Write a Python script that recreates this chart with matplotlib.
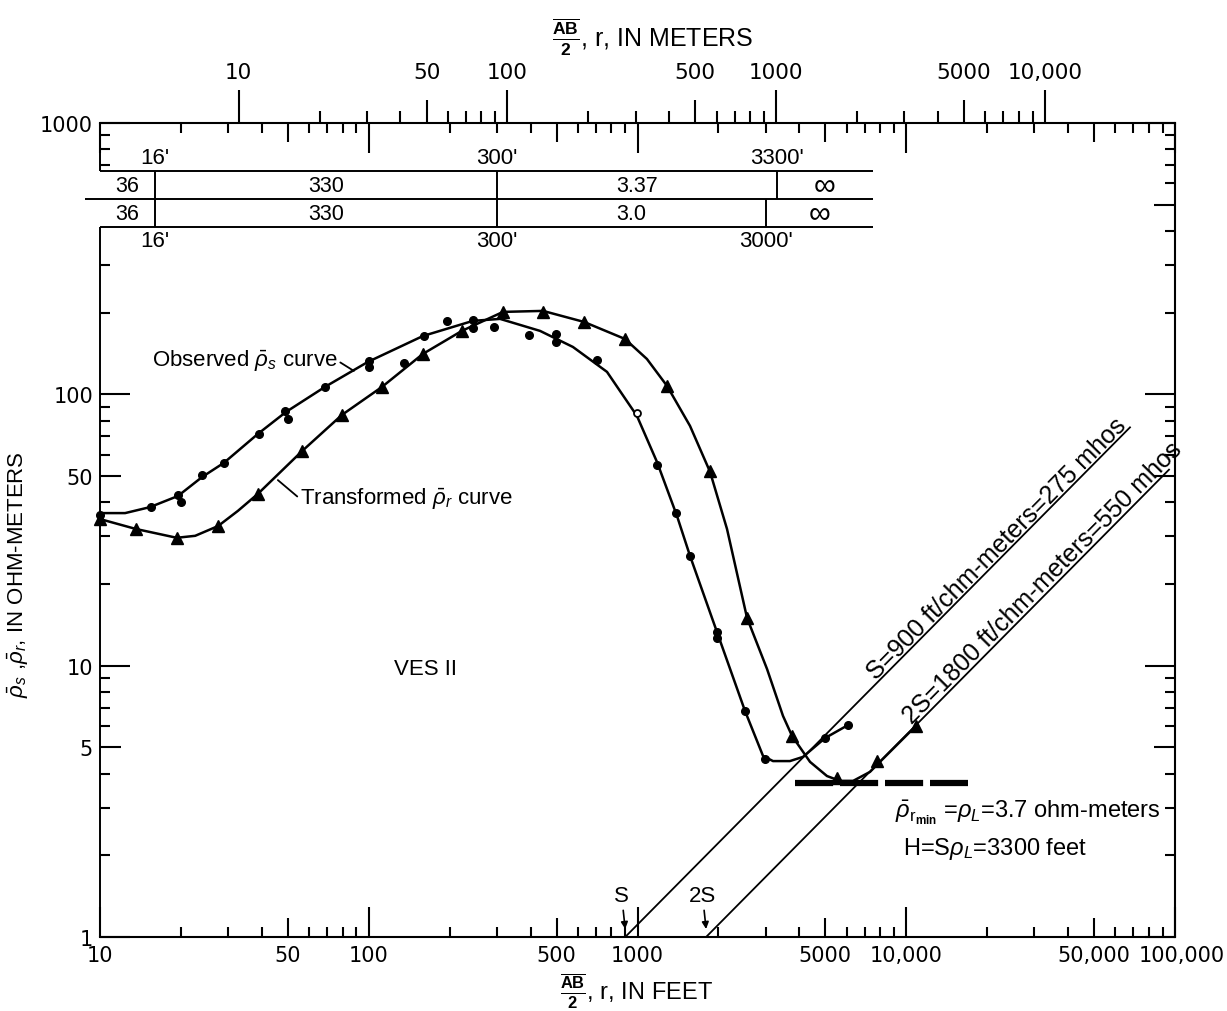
import matplotlib.pyplot as plt
import matplotlib.transforms as mtransforms
from matplotlib.ticker import FixedLocator, FuncFormatter, NullLocator

plt.rcParams['font.family'] = ['Liberation Sans', 'DejaVu Sans']
plt.rcParams['mathtext.fontset'] = 'custom'
plt.rcParams['mathtext.rm'] = 'Liberation Sans'
plt.rcParams['mathtext.it'] = 'Liberation Sans:italic'
plt.rcParams['mathtext.bf'] = 'Liberation Sans:bold'

FT_PER_M = 3.2808

# VES II: AB/2 in feet, apparent resistivity in ohm-meters
obs_r = [10, 15.5, 19.5, 20, 24, 29, 39, 49, 50, 69, 100, 100, 135, 160, 195,
         245, 245, 292, 395, 497, 497, 707, 1183, 1390, 1570, 1975, 1975,
         2510, 2980, 4990, 6070]
obs_rho = [36, 38.5, 42.5, 40, 50.5, 56, 71.5, 87, 81, 106, 133, 126, 131, 164,
           186, 188, 176, 177, 165, 167, 156, 134, 55, 36.5, 25.4, 13.3, 12.6,
           6.8, 4.53, 5.4, 6.05]
obs_open_r = [995]
obs_open_rho = [85]

# hand-drawn observed curve
obs_curve_r = [10, 12.4, 15.35, 19.5, 24, 28.9, 38.7, 49.2, 68.7, 99.3, 159,
               244, 308, 434, 575, 770, 995, 1182, 1403, 1568, 1976, 2512,
               2931, 3193, 3690, 4126, 4988, 6070]
obs_curve_rho = [36.5, 36.5, 38.4, 42.2, 49.6, 55.9, 71.5, 86.1, 106.5, 131.7,
                 164, 186.5, 189.7, 171.3, 149.5, 121, 83.3, 56.3, 35.6, 25.4,
                 13.3, 6.81, 4.65, 4.45, 4.45, 4.61, 5.41, 6.04]

# transformed values
tr_r = [10, 13.6, 19.3, 27.5, 38.7, 56.5, 79.5, 112, 159, 222, 316, 445, 632,
        898, 1288, 1860, 2555, 3760, 5520, 7780, 10870]
tr_rho = [34.7, 32, 29.6, 32.7, 43, 62, 84, 106, 141, 171, 201, 201, 185, 160,
          107, 52, 15, 5.5, 3.86, 4.45, 6.0]

tr_curve_r = [10, 13.6, 19.3, 22.6, 27.5, 32.6, 38.7, 56.5, 79.5, 112, 159,
              222, 316, 445, 632, 898, 1084, 1288, 1568, 1862, 2153, 2556,
              3034, 3478, 3758, 4385, 5070, 5670, 6340, 7330, 7980, 10870]
tr_curve_rho = [34.7, 31.9, 29.6, 30.1, 32.7, 37.2, 43, 61.8, 84, 106.5, 140.9,
                171.3, 201.3, 203, 184.9, 160, 135, 107.4, 76.5, 51.8, 31.9,
                15.0, 9.72, 6.53, 5.51, 4.42, 3.92, 3.76, 3.76, 4.06, 4.42, 6.0]

# conductance lines, rho = r / S
S_FT = 900
s_line_r = [900, 68000]
s2_line_r = [1800, 95000]

RHO_L = 3.7
rho_min_r = [3850, 17000]

# layer table: boundaries in feet and layer resistivities
obs_bounds = [10, 16, 300, 3300, 7500]
obs_layers = ['36', '330', '3.37', '\u221e']
int_bounds = [10, 16, 300, 3000, 7500]
int_layers = ['36', '330', '3.0', '\u221e']

x_labels = {10: '10', 50: '50', 100: '100', 500: '500', 1000: '1000',
            5000: '5000', 10000: '10,000', 50000: '50,000', 100000: '100,000'}
y_labels = {1: '1', 5: '5', 10: '10', 50: '50', 100: '100', 1000: '1000'}
m_labels = {10: '10', 50: '50', 100: '100', 500: '500', 1000: '1000',
            5000: '5000', 10000: '10,000'}


def log_ticks(lo, hi):
    locs, kinds = [], []
    for e in range(lo, hi):
        for m in range(1, 10):
            locs.append(m * 10.0 ** e)
            kinds.append('major' if m == 1 else 'mid' if m == 5 else 'minor')
    locs.append(10.0 ** hi)
    kinds.append('major')
    return locs, kinds


def set_ticks(axis, locs, kinds, labels, lengths):
    axis.set_major_locator(FixedLocator(locs))
    axis.set_minor_locator(NullLocator())
    axis.set_major_formatter(FuncFormatter(lambda v, pos: labels.get(round(v), '')))
    ticks = axis.get_major_ticks(len(locs))
    for tick, kind in zip(ticks, kinds):
        tick.tick1line.set_markersize(lengths[kind])
        tick.tick2line.set_markersize(lengths[kind])
    return ticks


fig = plt.figure(figsize=(12.27, 10.12), dpi=100)
ax = fig.add_axes([100 / 1227, 1 - 938 / 1012, 1075 / 1227, 814 / 1012])
ax_m = ax.twiny()

ax.set_xscale('log')
ax.set_yscale('log')
ax.set_xlim(10, 1e5)
ax.set_ylim(1, 1000)
ax.tick_params(which='both', direction='in', top=True, right=True,
               width=1.5, length=21.6, labelsize=15, labelfontfamily='DejaVu Sans')
ax.tick_params(axis='x', pad=6)
ax.tick_params(axis='y', pad=5)
for sp in ax.spines.values():
    sp.set_linewidth(1.5)
ax.spines['left'].set_visible(False)

xlocs, xkinds = log_ticks(1, 5)
xticks = set_ticks(ax.xaxis, xlocs, xkinds, x_labels, {'major': 21.6, 'mid': 14, 'minor': 7.2})
# nudge the last label so it clears 50,000
last = xticks[-1].label1
last.set_transform(last.get_transform()
                   + mtransforms.ScaledTranslation(5 / 72, 0, fig.dpi_scale_trans))

ylocs, ykinds = log_ticks(0, 3)
yticks = set_ticks(ax.yaxis, ylocs, ykinds, y_labels, {'major': 21.6, 'mid': 15, 'minor': 7.2})
# no left ticks where the layer table crosses the axis
for tick, loc in zip(yticks, ylocs):
    if 350 < loc < 700:
        tick.tick1line.set_visible(False)

# meter scale along the top
ax_m.set_xscale('log')
ax_m.set_xlim(10 / FT_PER_M, 1e5 / FT_PER_M)
for sp in ax_m.spines.values():
    sp.set_visible(False)
ax_m.tick_params(axis='x', which='both', direction='out', top=True, bottom=False,
                 labeltop=True, labelbottom=False, width=1.5, length=23.8,
                 labelsize=15.5, labelfontfamily='DejaVu Sans', pad=6)
mlocs, mkinds = log_ticks(1, 4)
set_ticks(ax_m.xaxis, mlocs, mkinds, m_labels, {'major': 23.8, 'mid': 16.5, 'minor': 8.6})

# layer table drawn in the upper part of the frame
trans = mtransforms.blended_transform_factory(ax.transData, ax.transAxes)
ROW_TOP, ROW_MID, ROW_BOT = 0.941, 0.9066, 0.872
line_kw = dict(color='k', lw=1.4, clip_on=False, solid_capstyle='butt')
ax.plot([0, 0], [ROW_TOP, 1], transform=ax.transAxes, **line_kw)
ax.plot([0, 0], [0, ROW_BOT], transform=ax.transAxes, **line_kw)
ax.plot([obs_bounds[0], obs_bounds[-1]], [ROW_TOP, ROW_TOP], transform=trans, **line_kw)
ax.plot([8.8, obs_bounds[-1]], [ROW_MID, ROW_MID], transform=trans, **line_kw)
ax.plot([int_bounds[0], int_bounds[-1]], [ROW_BOT, ROW_BOT], transform=trans, **line_kw)

for bounds, layers, y0, y1, ylab, lab_va in [
        (obs_bounds, obs_layers, ROW_MID, ROW_TOP, ROW_TOP + 0.004, 'bottom'),
        (int_bounds, int_layers, ROW_BOT, ROW_MID, ROW_BOT - 0.004, 'top')]:
    for b in bounds[1:-1]:
        ax.plot([b, b], [y0, y1], transform=trans, **line_kw)
        ax.text(b, ylab, f"{b}'", transform=trans, ha='center', va=lab_va, fontsize=16)
    for left, right, val in zip(bounds[:-1], bounds[1:], layers):
        size = 22 if val == '\u221e' else 15.5
        ax.text((left * right) ** 0.5, (y0 + y1) / 2, val, transform=trans,
                ha='center', va='center', fontsize=size)

# curves and points
ax.plot(obs_curve_r, obs_curve_rho, color='k', lw=1.8)
ax.plot(tr_curve_r, tr_curve_rho, color='k', lw=1.8)
ax.plot(obs_r, obs_rho, 'o', color='k', ms=5.5, clip_on=False)
ax.plot(obs_open_r, obs_open_rho, 'o', mfc='white', mec='k', mew=1.3, ms=5)
ax.plot(tr_r, tr_rho, '^', color='k', ms=8.5, clip_on=False)

ax.plot(s_line_r, [r / S_FT for r in s_line_r], color='k', lw=1.3)
ax.plot(s2_line_r, [r / (2 * S_FT) for r in s2_line_r], color='k', lw=1.3)
ax.plot(rho_min_r, [RHO_L, RHO_L], color='k', lw=4.5, dashes=(6.1, 1.1),
        solid_capstyle='butt', dash_capstyle='butt')

# labels
ax.annotate(r'Observed $\bar{\rho}_s$ curve', xy=(88, 122), xytext=(15.6, 133),
            ha='left', va='center', fontsize=16,
            arrowprops=dict(arrowstyle='-', color='k', lw=1.3, relpos=(1, 0.5),
                            shrinkA=0, shrinkB=0))
ax.annotate(r'Transformed $\bar{\rho}_r$ curve', xy=(45.9, 48.3), xytext=(55.5, 41.2),
            ha='left', va='center', fontsize=16,
            arrowprops=dict(arrowstyle='-', color='k', lw=1.3, relpos=(0, 0.5),
                            shrinkA=0, shrinkB=0))
ax.text(162, 9.8, 'VES II', ha='center', va='center', fontsize=16)

ax.annotate('S=900 ft/chm-meters=275 mhos', xy=(23000, 23000 / S_FT),
            xytext=(-1.6, 1.6), textcoords='offset points', rotation=45.3,
            rotation_mode='anchor', ha='center', va='baseline', fontsize=18)
ax.annotate('2S=1800 ft/chm-meters=550 mhos', xy=(34300, 34300 / (2 * S_FT)),
            xytext=(-1.6, 1.6), textcoords='offset points', rotation=45.3,
            rotation_mode='anchor', ha='center', va='baseline', fontsize=18)

ax.text(9080, 2.89, r'$\bar{\rho}_{\mathrm{r}_{\mathbf{min}}}$ =$\rho_L$=3.7 ohm-meters',
        ha='left', va='center', fontsize=17)
ax.text(9730, 2.13, r'H=S$\rho_L$=3300 feet', ha='left', va='center', fontsize=17)

arrow_kw = dict(arrowstyle='-|>', color='k', lw=1.2, mutation_scale=10,
                shrinkA=1, shrinkB=0)
ax.annotate('S', xy=(S_FT, 1.07), xytext=(S_FT * 0.97, 1.42), ha='center',
            va='center', fontsize=16, arrowprops=arrow_kw)
ax.annotate('2S', xy=(2 * S_FT, 1.07), xytext=(2 * S_FT * 0.97, 1.42), ha='center',
            va='center', fontsize=16, arrowprops=arrow_kw)

ab2 = r'$\frac{\overline{\mathbf{AB}}}{\mathbf{2}}$'
ax.set_xlabel(ab2 + ', r, IN FEET', fontsize=17)
ax.xaxis.set_label_coords(0.499, -0.041)
ax_m.set_xlabel(ab2 + ', r, IN METERS', fontsize=18)
ax_m.xaxis.set_label_coords(0.514, 1.095)
ax.set_ylabel(r'$\bar{\rho}_s$ ,$\bar{\rho}_r$, IN OHM-METERS', fontsize=16)
ax.yaxis.set_label_coords(-0.064, 0.446)

fig.savefig('out.png', dpi=100, facecolor='white')
